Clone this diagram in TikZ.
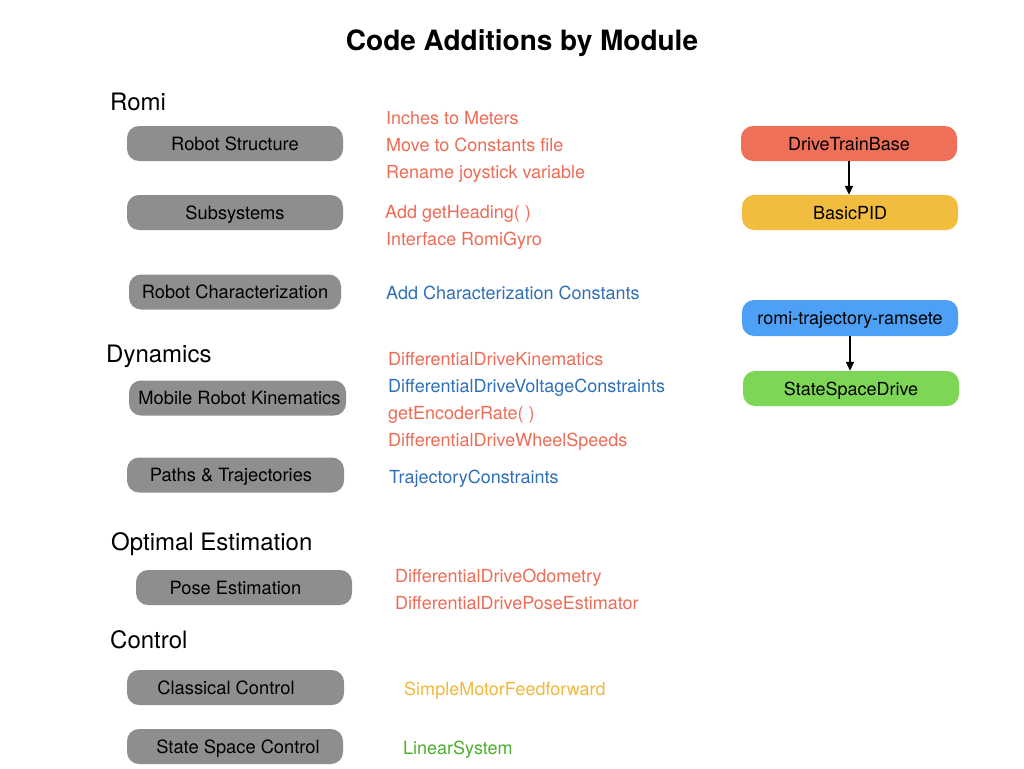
\documentclass[tikz,border=0pt]{standalone}
\usepackage{fontspec}
\setmainfont{TeX Gyre Heros}
\usetikzlibrary{arrows.meta}
\definecolor{grayfill}{RGB}{142,142,142}
\definecolor{redtxt}{RGB}{238,107,85}
\definecolor{redbox}{RGB}{239,112,89}
\definecolor{bluetxt}{RGB}{47,112,185}
\definecolor{bluebox}{RGB}{77,160,245}
\definecolor{yellowtxt}{RGB}{240,185,58}
\definecolor{yellowbox}{RGB}{240,189,63}
\definecolor{greentxt}{RGB}{76,175,46}
\definecolor{greenbox}{RGB}{126,214,86}
\tikzset{
  modbox/.style={rounded corners=12pt, fill=grayfill, minimum width=216pt, minimum height=35pt, inner sep=0pt, text height=13pt, text depth=0pt, font=\fontsize{18.3}{20}\selectfont, text=black},
  codebox/.style={rounded corners=12pt, minimum width=216pt, minimum height=35pt, inner sep=0pt, text height=13pt, text depth=0pt, font=\fontsize{18}{20}\selectfont, text=black},
  item/.style={anchor=base west, inner sep=0pt, font=\fontsize{18}{20}\selectfont},
  section/.style={anchor=base west, inner sep=0pt, font=\fontsize{24}{26}\selectfont},
  link/.style={line width=1.5pt, -{Triangle[length=9pt,width=8pt]}}
}
\begin{document}
\begin{tikzpicture}[x=1pt,y=-1pt]
\useasboundingbox (0,0) rectangle (1024,768);
\fill[white] (0,0) rectangle (1024,768);
% title
\node[anchor=base, inner sep=0pt, font=\fontsize{28}{30}\selectfont\bfseries] (title) at (522,51) {Code Additions by Module};
% sections
\node[section] (s1) at (110,110) {Romi};
\node[section] (s2) at (106,362) {Dynamics};
\node[section] (s3) at (111,550) {Optimal Estimation};
\node[section] (s4) at (110,648) {Control};
% module boxes
\node[modbox] (m1) at (235,143.5) {Robot Structure};
\node[modbox] (m2) at (235,212.5) {Subsystems};
\node[modbox, minimum width=212pt] (m3) at (235,292) {Robot Characterization};
\node[modbox, minimum width=217pt] (m4) at (237.5,398) {Mobile Robot Kinematics\hspace*{-4pt}};
\node[modbox, minimum width=217pt] (m5) at (235.5,475) {\hspace*{-9pt}Paths \& Trajectories};
\node[modbox] (m6) at (244,587.5) {\hspace*{-17pt}Pose Estimation};
\node[modbox, minimum width=217pt] (m7) at (235.5,687.5) {\hspace*{-19pt}Classical Control};
\node[modbox] (m8) at (235,746.5) {State Space Control\hspace*{-6pt}};
% items
\node[item, text=redtxt] (i1) at (386,124) {Inches to Meters};
\node[item, text=redtxt] (i2) at (386,151) {Move to Constants file};
\node[item, text=redtxt] (i3) at (386,178) {Rename joystick variable};
\node[item, text=redtxt] (i4) at (385,218) {Add getHeading( )};
\node[item, text=redtxt] (i5) at (386,245) {Interface RomiGyro};
\node[item, text=bluetxt] (i6) at (386,299) {Add Characterization Constants};
\node[item, text=redtxt] (i7) at (388,365) {DifferentialDriveKinematics};
\node[item, text=bluetxt] (i8) at (388,392) {DifferentialDriveVoltageConstraints};
\node[item, text=redtxt] (i9) at (388,419) {getEncoderRate( )};
\node[item, text=redtxt] (i10) at (388,446) {DifferentialDriveWheelSpeeds};
\node[item, text=bluetxt] (i11) at (389,483) {TrajectoryConstraints};
\node[item, text=redtxt] (i12) at (395,582) {DifferentialDriveOdometry};
\node[item, text=redtxt] (i13) at (395,609) {DifferentialDrivePoseEstimator};
\node[item, text=yellowtxt] (i14) at (404,695) {SimpleMotorFeedforward};
\node[item, text=greentxt] (i15) at (403,754) {LinearSystem};
% code boxes
\node[codebox, fill=redbox] (dtb) at (849,143.5) {DriveTrainBase};
\node[codebox, fill=yellowbox] (pid) at (850,212.5) {BasicPID};
\node[codebox, fill=bluebox, minimum height=36pt] (rtr) at (850,318) {romi-trajectory-ramsete};
\node[codebox, fill=greenbox] (ssd) at (851,388.5) {StateSpaceDrive};
\draw[link] (dtb.south -| 849,0) -- (pid.north -| 849,0);
\draw[link] (rtr.south -| 850,0) -- (ssd.north -| 850,0);
\end{tikzpicture}
\end{document}
